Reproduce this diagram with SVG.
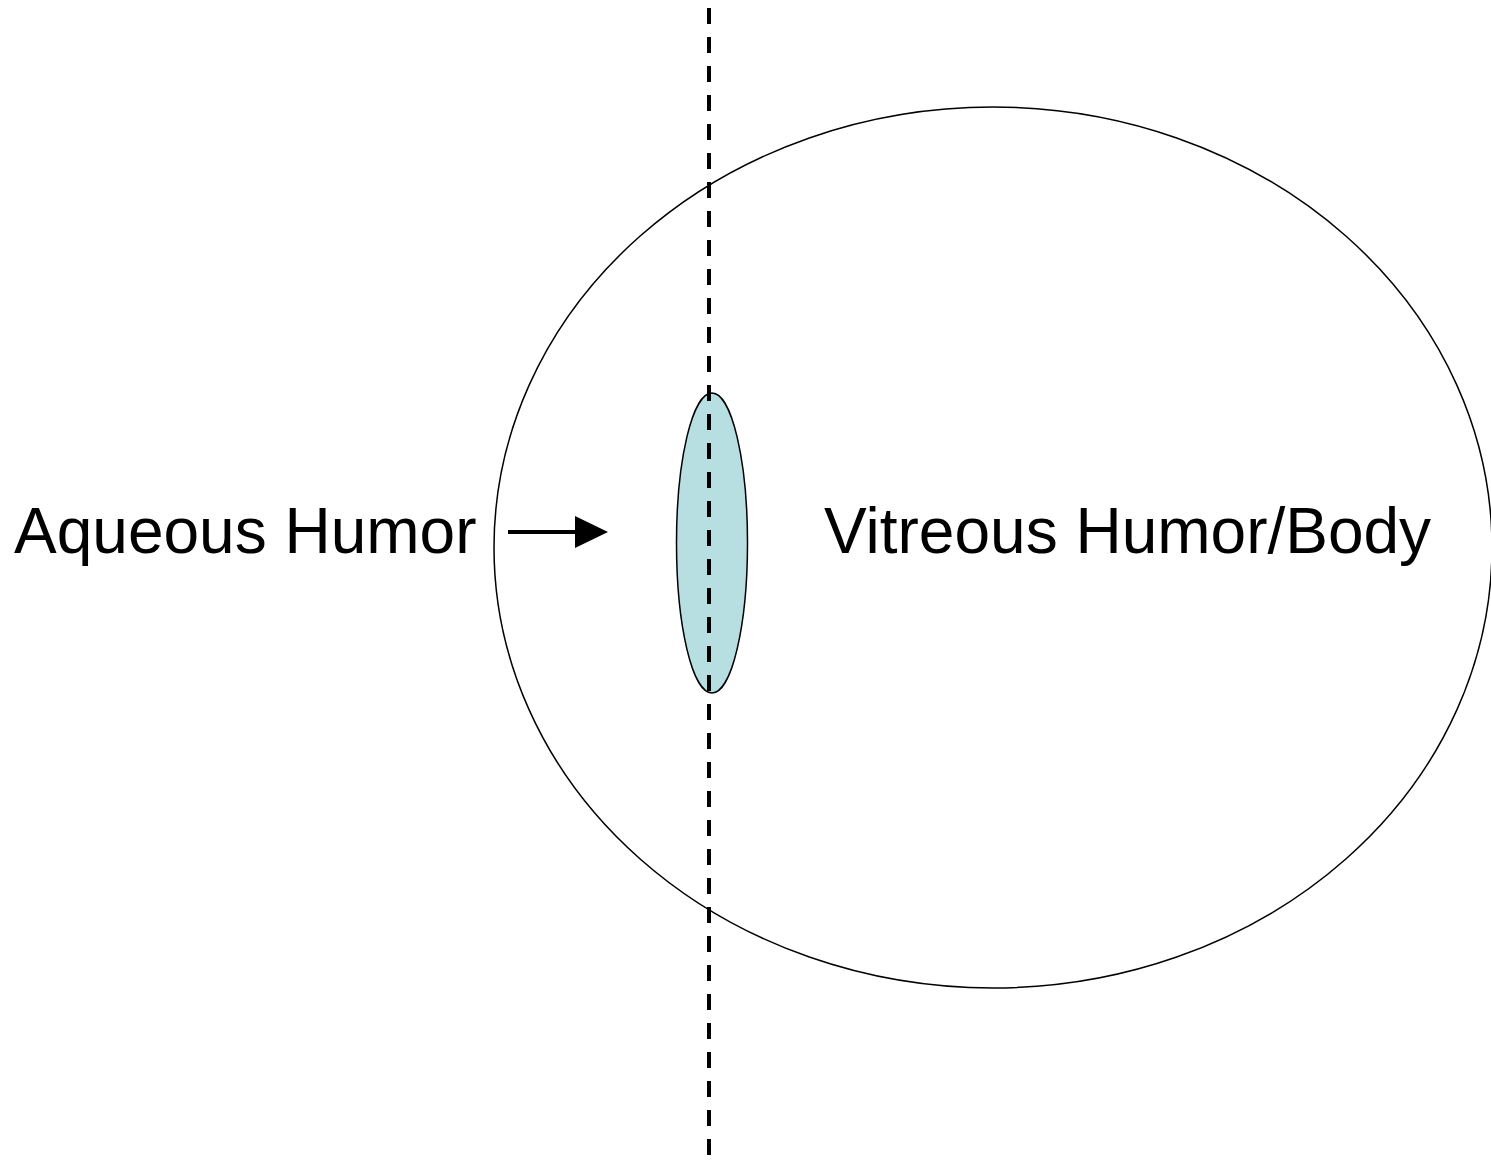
<svg xmlns="http://www.w3.org/2000/svg" width="1491" height="1161" viewBox="0 0 1491 1161">
<style>
.lbl{font-family:"Liberation Sans",Arial,sans-serif;font-size:64px;fill:#000}
.outline{fill:none;stroke:#000;stroke-width:1.5}
</style>
<defs>
<marker id="ah" markerWidth="8" markerHeight="8" refX="0" refY="4" orient="auto" markerUnits="userSpaceOnUse" viewBox="0 0 8 8">
<path d="M0,0 L8,4 L0,8 Z" fill="#000"/>
</marker>
</defs>
<rect width="1491" height="1161" fill="#fff"/>
<g id="eyeball">
<ellipse class="outline" cx="993" cy="547.5" rx="499" ry="440.5"/>
</g>
<g id="lens">
<ellipse cx="712" cy="543" rx="35.5" ry="150" fill="#b7dfe2" stroke="#000" stroke-width="1.5"/>
</g>
<g id="connectors">
<line x1="709" y1="8" x2="709" y2="1161" stroke="#000" stroke-width="4" stroke-dasharray="16 13"/>
<line x1="508" y1="532" x2="576" y2="532" stroke="#000" stroke-width="4"/>
<path d="M575,516 L608,532 L575,548 Z" fill="#000"/>
</g>
<g id="label-aqueous"><text class="lbl" x="14" y="553">Aqueous Humor</text></g>
<g id="label-vitreous"><text class="lbl" x="824" y="553">Vitreous Humor/Body</text></g>
</svg>
